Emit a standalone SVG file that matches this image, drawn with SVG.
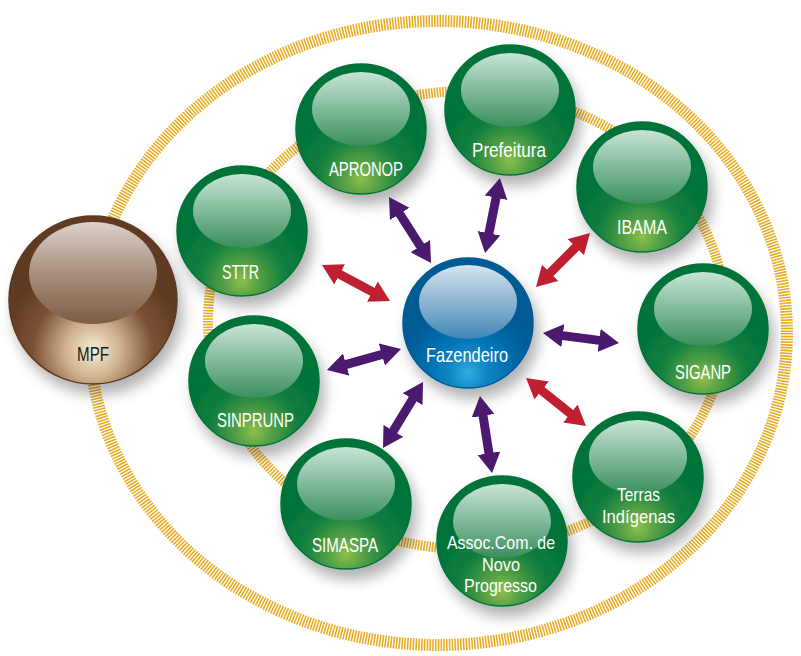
<svg xmlns="http://www.w3.org/2000/svg" width="801" height="656" viewBox="0 0 801 656">
<defs>
  <radialGradient id="gBody" cx="0.5" cy="0.9" r="0.55" fx="0.5" fy="0.88">
    <stop offset="0" stop-color="#8dbf4c"/>
    <stop offset="0.25" stop-color="#55a045"/>
    <stop offset="0.6" stop-color="#13803f"/>
    <stop offset="1" stop-color="#00733a"/>
  </radialGradient>
  <linearGradient id="gHi" x1="0" y1="0" x2="0" y2="1">
    <stop offset="0" stop-color="#c8e4d5"/>
    <stop offset="0.5" stop-color="#80ba9a"/>
    <stop offset="1" stop-color="#3a8e5c"/>
  </linearGradient>
  <radialGradient id="bBody" cx="0.5" cy="0.9" r="0.55" fx="0.5" fy="0.88">
    <stop offset="0" stop-color="#34acdf"/>
    <stop offset="0.3" stop-color="#0a82c2"/>
    <stop offset="0.7" stop-color="#0068a6"/>
    <stop offset="1" stop-color="#005a94"/>
  </radialGradient>
  <linearGradient id="bHi" x1="0" y1="0" x2="0" y2="1">
    <stop offset="0" stop-color="#d3e4ee"/>
    <stop offset="0.5" stop-color="#8db5d1"/>
    <stop offset="1" stop-color="#3f86b7"/>
  </linearGradient>
  <radialGradient id="mBody" cx="0.5" cy="0.8" r="0.55" fx="0.5" fy="0.8">
    <stop offset="0" stop-color="#f7eed9"/>
    <stop offset="0.3" stop-color="#cfb28c"/>
    <stop offset="0.65" stop-color="#7a5134"/>
    <stop offset="1" stop-color="#5e3a20"/>
  </radialGradient>
  <linearGradient id="mHi" x1="0" y1="0" x2="0" y2="1">
    <stop offset="0" stop-color="#ddd2cc"/>
    <stop offset="0.5" stop-color="#a88f7d"/>
    <stop offset="1" stop-color="#7c5c45"/>
  </linearGradient>
  <filter id="shadow" x="-30%" y="-30%" width="160%" height="170%">
    <feDropShadow dx="5" dy="10" stdDeviation="7" flood-color="#000" flood-opacity="0.3"/>
  </filter>
  <marker id="hp" markerUnits="userSpaceOnUse" markerWidth="22" markerHeight="24" refX="8" refY="11.5" orient="auto-start-reverse" viewBox="0 0 22 24">
    <path d="M0,0 L20,11.5 L0,23 Z" fill="#4b1a6e"/>
  </marker>
  <marker id="hr" markerUnits="userSpaceOnUse" markerWidth="22" markerHeight="24" refX="8" refY="11.5" orient="auto-start-reverse" viewBox="0 0 22 24">
    <path d="M0,0 L20,11.5 L0,23 Z" fill="#c01f30"/>
  </marker>
  <style>
    .ring{fill:none;stroke:#e8ad25;stroke-dasharray:1.6 1.2}
    .gb{fill:url(#gBody);stroke:#007238;stroke-width:1.5;filter:url(#shadow)}
    .gh{fill:url(#gHi)}
    .bb{fill:url(#bBody);stroke:#005a94;stroke-width:1.5;filter:url(#shadow)}
    .bh{fill:url(#bHi)}
    .mb{fill:url(#mBody);stroke:#5e3a20;stroke-width:1.5;filter:url(#shadow)}
    .mh{fill:url(#mHi)}
    text{font-family:"Liberation Sans",Arial,sans-serif;font-size:21px;text-anchor:middle;fill:#fff}
    .sm{font-size:18.5px}
    .dark{fill:#1a1a1a}
    .ap{stroke:#4b1a6e;stroke-width:9;marker-start:url(#hp);marker-end:url(#hp)}
    .ar{stroke:#c01f30;stroke-width:9;marker-start:url(#hr);marker-end:url(#hr)}
  </style>
</defs>
<rect width="801" height="656" fill="#fff"/>
<g id="rings">
  <ellipse class="ring" cx="438" cy="333" rx="349" ry="312" stroke-width="12"/>
  <ellipse class="ring" cx="467" cy="320" rx="259" ry="229" stroke-width="10"/>
</g>
<g id="n-mpf">
  <circle class="mb" cx="93" cy="300" r="84"/>
  <ellipse class="mh" cx="93" cy="273" rx="64" ry="51"/>
  <text class="dark" x="93" y="361" textLength="32" lengthAdjust="spacingAndGlyphs">MPF</text>
</g>
<g id="n-sttr">
  <circle class="gb" cx="242" cy="231" r="65"/>
  <ellipse class="gh" cx="242" cy="211" rx="49" ry="37"/>
  <text x="240.5" y="279" textLength="37" lengthAdjust="spacingAndGlyphs">STTR</text>
</g>
<g id="n-apronop">
  <circle class="gb" cx="361" cy="129" r="65"/>
  <ellipse class="gh" cx="361" cy="109" rx="49" ry="37"/>
  <text x="366" y="176" textLength="74" lengthAdjust="spacingAndGlyphs">APRONOP</text>
</g>
<g id="n-prefeitura">
  <circle class="gb" cx="510" cy="110" r="65"/>
  <ellipse class="gh" cx="510" cy="90" rx="49" ry="37"/>
  <text x="509" y="157" textLength="74" lengthAdjust="spacingAndGlyphs">Prefeitura</text>
</g>
<g id="n-ibama">
  <circle class="gb" cx="642" cy="187" r="65"/>
  <ellipse class="gh" cx="642" cy="167" rx="49" ry="37"/>
  <text x="642" y="234" textLength="50" lengthAdjust="spacingAndGlyphs">IBAMA</text>
</g>
<g id="n-siganp">
  <circle class="gb" cx="703" cy="329" r="65"/>
  <ellipse class="gh" cx="703" cy="309" rx="49" ry="37"/>
  <text x="703" y="379" textLength="56" lengthAdjust="spacingAndGlyphs">SIGANP</text>
</g>
<g id="n-terras">
  <circle class="gb" cx="638" cy="477" r="65"/>
  <ellipse class="gh" cx="638" cy="457" rx="49" ry="37"/>
  <text class="sm" x="638.5" y="501" textLength="43" lengthAdjust="spacingAndGlyphs">Terras</text>
  <text class="sm" x="638.5" y="523" textLength="73" lengthAdjust="spacingAndGlyphs">Indígenas</text>
</g>
<g id="n-assoc">
  <circle class="gb" cx="502" cy="541" r="65"/>
  <ellipse class="gh" cx="502" cy="521" rx="49" ry="37"/>
  <text class="sm" x="501" y="549" textLength="108" lengthAdjust="spacingAndGlyphs">Assoc.Com. de</text>
  <text class="sm" x="501" y="570.5" textLength="38" lengthAdjust="spacingAndGlyphs">Novo</text>
  <text class="sm" x="500.5" y="592" textLength="73" lengthAdjust="spacingAndGlyphs">Progresso</text>
</g>
<g id="n-simaspa">
  <circle class="gb" cx="346" cy="504" r="65"/>
  <ellipse class="gh" cx="346" cy="484" rx="49" ry="37"/>
  <text x="345" y="552" textLength="66" lengthAdjust="spacingAndGlyphs">SIMASPA</text>
</g>
<g id="n-sinprunp">
  <circle class="gb" cx="254" cy="381" r="65"/>
  <ellipse class="gh" cx="254" cy="361" rx="49" ry="37"/>
  <text x="255.5" y="427" textLength="77" lengthAdjust="spacingAndGlyphs">SINPRUNP</text>
</g>
<g id="n-fazendeiro">
  <circle class="bb" cx="468" cy="323" r="65"/>
  <ellipse class="bh" cx="468" cy="302" rx="49" ry="37"/>
  <text x="467" y="362" textLength="82" lengthAdjust="spacingAndGlyphs">Fazendeiro</text>
</g>
<g id="connectors">
  <line class="ap" x1="395.4" y1="207.1" x2="424.6" y2="252.9"/>
  <line class="ap" x1="497.6" y1="189.8" x2="487.4" y2="241.2"/>
  <line class="ar" x1="581.5" y1="241.5" x2="544.5" y2="278.5"/>
  <line class="ar" x1="332.6" y1="270.6" x2="379.4" y2="295.4"/>
  <line class="ap" x1="338.5" y1="366.7" x2="389.5" y2="352.3"/>
  <line class="ap" x1="389.2" y1="437.7" x2="416.8" y2="392.3"/>
  <line class="ap" x1="481.8" y1="407.9" x2="490.2" y2="461.1"/>
  <line class="ar" x1="535.4" y1="385.5" x2="576.6" y2="418.5"/>
  <line class="ap" x1="554.9" y1="334.6" x2="607.1" y2="341.4"/>
</g>
</svg>
